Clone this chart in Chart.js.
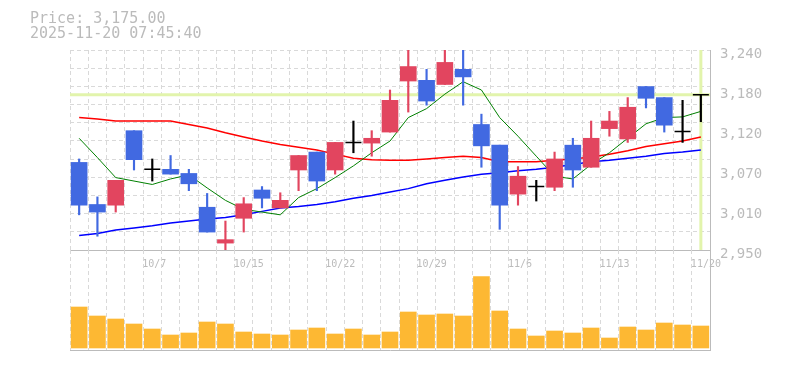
<!DOCTYPE html>
<html>
<head>
<meta charset="utf-8">
<script src="https://cdn.jsdelivr.net/npm/chart.js@4.4.1/dist/chart.umd.min.js"></script>
<style>
  html, body { margin: 0; padding: 0; background: #fff; }
  #wrap { position: relative; width: 785px; height: 370px; }
  #wrap canvas { position: absolute; left: 0; top: 0; }
  #info {
    position: absolute; left: 30px; top: 10.5px;
    font: 15px/15px "DejaVu Sans Mono", monospace; color: #bbb; white-space: pre;
  }
</style>
</head>
<body>
<div id="wrap">
  <canvas id="price" width="785" height="370"></canvas>
  <canvas id="volume" width="785" height="370"></canvas>
  <div id="info">Price: 3,175.00
2025-11-20 07:45:40</div>
</div>
<script>
const dates = ["10/1", "10/2", "10/3", "10/6", "10/7", "10/8", "10/9", "10/10", "10/14", "10/15",
  "10/16", "10/17", "10/20", "10/21", "10/22", "10/23", "10/24", "10/27", "10/28", "10/29",
  "10/30", "10/31", "11/4", "11/5", "11/6", "11/7", "11/10", "11/11", "11/12", "11/13",
  "11/14", "11/17", "11/18", "11/19", "11/20"];
const dateTicks = ["10/7", "10/15", "10/22", "10/29", "11/6", "11/13", "11/20"];

const open = [3077, 3016, 3015, 3123, 3067, 3067, 3061, 3012, 2960, 2996,
  3037, 3011, 3066, 3092, 3066, 3106, 3105, 3121, 3195, 3196,
  3190, 3212, 3132, 3102, 3031, 3042, 3041, 3102, 3070, 3126,
  3111, 3187, 3171, 3122, 3175];
const high = [3082, 3027, 3051, 3123, 3082, 3087, 3067, 3032, 2992, 3026,
  3042, 3033, 3087, 3092, 3106, 3137, 3123, 3182, 3245, 3212,
  3245, 3245, 3147, 3102, 3071, 3051, 3092, 3112, 3137, 3151,
  3171, 3187, 3171, 3167, 3175];
const low = [3001, 2970, 3005, 3066, 3050, 3060, 3036, 2976, 2948, 2976,
  3011, 3011, 3036, 3036, 3060, 3091, 3086, 3121, 3150, 3160,
  3190, 3160, 3070, 2980, 3015, 3021, 3036, 3041, 3070, 3115,
  3106, 3156, 3121, 3106, 3136];
const close = [3015, 3005, 3051, 3081, 3067, 3060, 3046, 2976, 2965, 3017,
  3025, 3022, 3087, 3050, 3106, 3106, 3112, 3167, 3216, 3166,
  3222, 3201, 3101, 3015, 3057, 3042, 3082, 3066, 3112, 3137,
  3157, 3170, 3131, 3122, 3175];

const ma5 = [3112, 3084, 3055, 3050, 3045, 3053, 3059, 3040, 3022, 3009,
  3005, 3001, 3026, 3039, 3055, 3072, 3091, 3108, 3142, 3155,
  3176, 3194, 3182, 3142, 3115, 3086, 3057, 3053, 3074, 3091,
  3112, 3133, 3142, 3143, 3151];
const ma25 = [3142, 3140, 3137, 3137, 3137, 3137, 3132, 3127, 3120, 3114,
  3108, 3103, 3099, 3095, 3089, 3083, 3081, 3080, 3080, 3082,
  3084, 3086, 3084, 3078, 3078, 3078, 3080, 3082, 3085, 3089,
  3094, 3100, 3104, 3108, 3114];
const ma75 = [2971, 2974, 2979, 2982, 2985, 2989, 2992, 2995, 2997, 3001,
  3006, 3011, 3013, 3016, 3020, 3025, 3029, 3034, 3039, 3046,
  3051, 3056, 3060, 3062, 3065, 3067, 3070, 3074, 3078, 3080,
  3083, 3086, 3090, 3092, 3095];

// volume, thousand shares
const volume = [410, 320, 290, 240, 190, 130, 150, 260, 240, 160,
  140, 130, 180, 200, 140, 190, 130, 160, 360, 330,
  340, 320, 713, 370, 190, 120, 170, 150, 200, 100,
  210, 180, 250, 230, 220];

const lastPrice = 3175;
const priceRange = [2950, 3240];
const priceTicks = [2950, 3008, 3066, 3124, 3182, 3240];
const priceTickLabels = ["2,950", "3,010", "3,070", "3,120", "3,180", "3,240"];

const UP = "#e2455f";
const DOWN = "#4169e1";
const DOJI = "#000";
const HILITE = "#e2f4ac";
const VOL = "#fdb833";
const GRID = "#d9d9d9";
const AXIS = "#bbb";
const TEXT = "#bbb";
const FONT = "DejaVu Sans Mono";
const DASH = [4, 3];

const last = dates.length - 1;
const candleColor = (i) => (close[i] > open[i] ? UP : close[i] < open[i] ? DOWN : DOJI);
const colors = dates.map((_, i) => candleColor(i));

new Chart(document.getElementById("price"), {
  type: "bar",
  data: {
    labels: dates,
    datasets: [
      {
        type: "line", xAxisID: "xh", order: 30,
        data: [{ x: -0.5, y: lastPrice }, { x: last + 0.5, y: lastPrice }],
        borderColor: HILITE, borderWidth: 3, pointRadius: 0,
      },
      {
        type: "line", xAxisID: "xh", order: 30,
        data: [{ x: last, y: priceRange[0] }, { x: last, y: priceRange[1] }],
        borderColor: HILITE, borderWidth: 3, pointRadius: 0,
      },
      { type: "line", data: ma75, borderColor: "#0000ff", borderWidth: 1.5, pointRadius: 0, order: 12 },
      { type: "line", data: ma25, borderColor: "#ff0000", borderWidth: 1.5, pointRadius: 0, order: 11 },
      { type: "line", data: ma5, borderColor: "#008000", borderWidth: 1, pointRadius: 0, order: 10 },
      {
        data: low.map((l, i) => [l, high[i]]),
        backgroundColor: colors, barThickness: 1.5, grouped: false, order: 5,
      },
      {
        data: open.map((o, i) => (o === close[i] ? null : [o, close[i]])),
        backgroundColor: colors, barThickness: 16, grouped: false, order: 4,
      },
      {
        type: "line", showLine: false, order: 1,
        data: open.map((o, i) => (o === close[i] ? o : null)),
        pointStyle: "line", pointRadius: 8, pointBorderWidth: 1.5, pointBorderColor: DOJI,
      },
    ],
  },
  options: {
    responsive: false,
    animation: false,
    layout: { padding: { left: 70, top: 50 } },
    plugins: { legend: { display: false }, tooltip: { enabled: false } },
    scales: {
      x: {
        offset: true,
        grid: { offset: true, color: GRID, drawTicks: false },
        border: { color: AXIS, dash: DASH },
        ticks: {
          autoSkip: false, maxRotation: 0, align: "start", labelOffset: -10, padding: 8,
          color: TEXT, font: { family: FONT, size: 10 },
          callback: (v, i) => (dateTicks.includes(dates[i]) ? dates[i] : ""),
        },
        afterFit: (s) => { s.height = 120; },
      },
      xh: {
        type: "linear", display: false, offset: false, grid: { offset: false },
        min: -0.5, max: last + 0.5,
      },
      y: {
        position: "right", min: priceRange[0], max: priceRange[1],
        afterBuildTicks: (s) => { s.ticks = priceTicks.map((value) => ({ value })); },
        grid: { display: false, drawTicks: false },
        border: { color: AXIS },
        ticks: {
          padding: 10, labelOffset: 4, color: TEXT, font: { family: FONT, size: 14 },
          callback: (v, i) => priceTickLabels[i],
        },
        afterFit: (s) => { s.width = 75; },
      },
      yg: {
        position: "left", min: priceRange[0], max: priceRange[1],
        grid: { color: GRID, drawTicks: false },
        border: { display: false, dash: DASH },
        ticks: { display: false, count: 12 },
        afterFit: (s) => { s.width = 0; },
      },
    },
  },
});

new Chart(document.getElementById("volume"), {
  type: "bar",
  data: {
    labels: dates,
    datasets: [{ data: volume, backgroundColor: VOL, barThickness: 16 }],
  },
  options: {
    responsive: false,
    animation: false,
    layout: { padding: { left: 70, top: 250 } },
    plugins: { legend: { display: false }, tooltip: { enabled: false } },
    scales: {
      x: {
        grid: { offset: true, color: GRID, drawTicks: false },
        border: { color: AXIS, dash: DASH },
        ticks: { display: false },
        afterFit: (s) => { s.height = 20; },
      },
      y: {
        position: "right", min: -20, max: 980,
        grid: { display: false, drawTicks: false },
        border: { color: AXIS },
        ticks: { display: false },
        afterFit: (s) => { s.width = 75; },
      },
    },
  },
});
</script>
</body>
</html>
